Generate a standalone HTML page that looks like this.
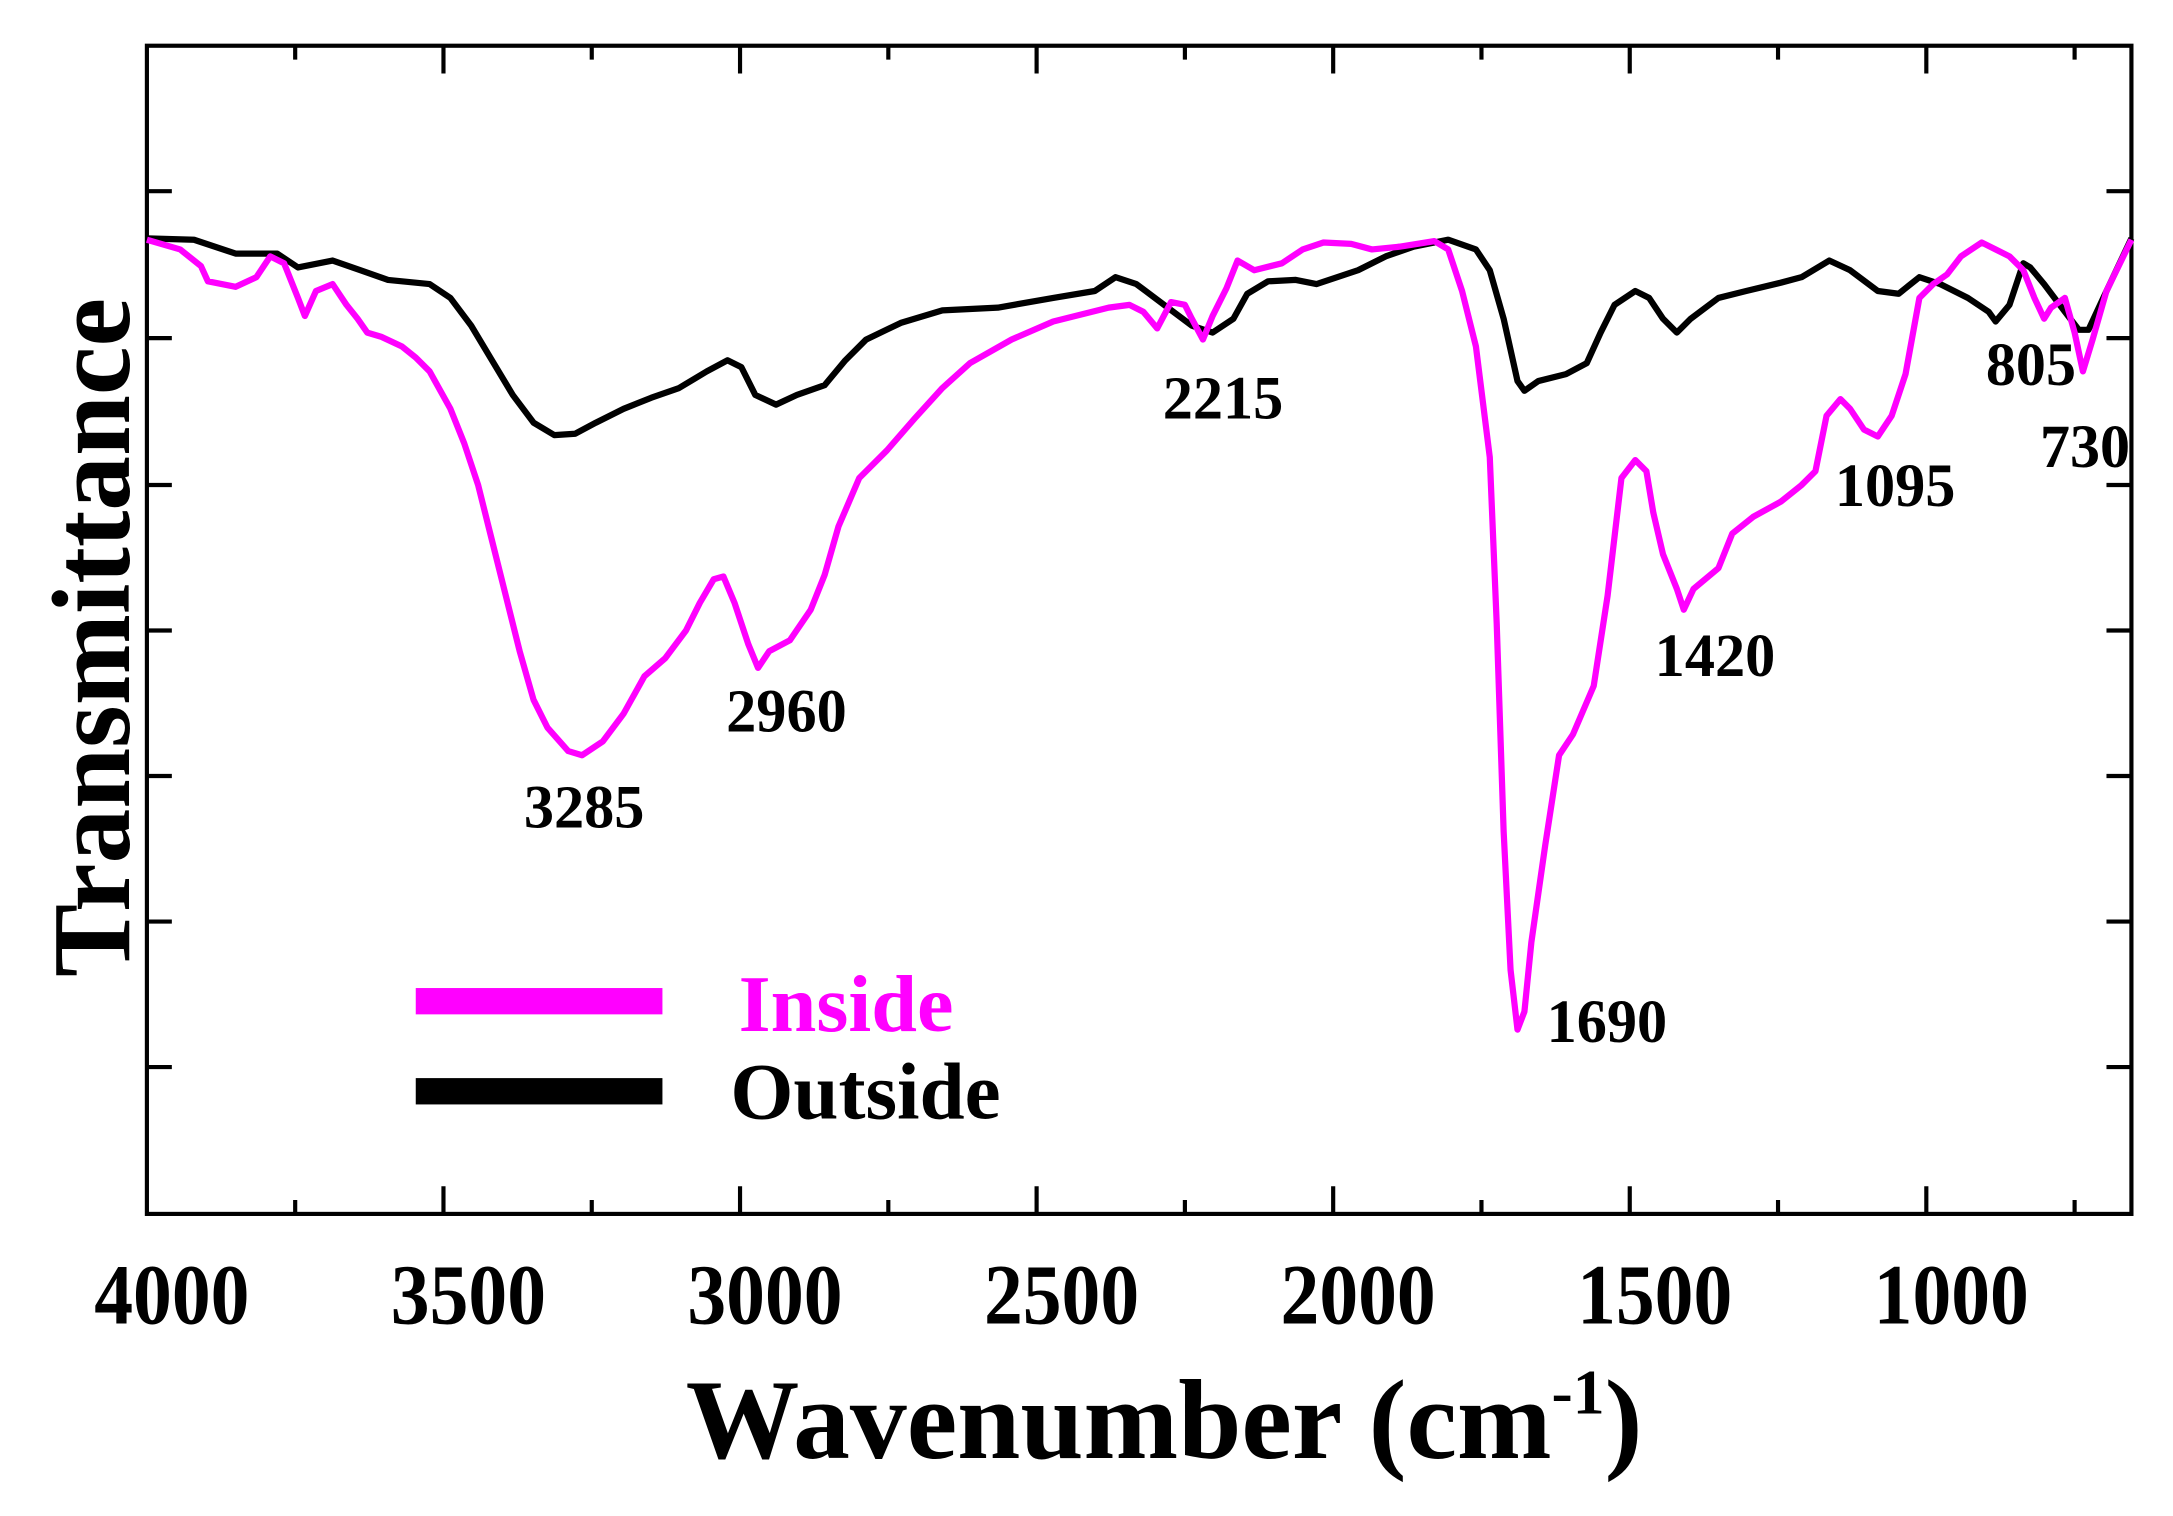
<!DOCTYPE html>
<html><head><meta charset="utf-8"><style>
html,body{margin:0;padding:0;background:#fff}
svg{display:block}
text{font-family:"Liberation Serif",serif;font-weight:bold}
</style></head><body>
<svg width="2173" height="1516" viewBox="0 0 1568 1094" preserveAspectRatio="none" xmlns="http://www.w3.org/2000/svg">
<rect x="0" y="0" width="1568" height="1094" fill="#fff"/>
<g stroke="#000" stroke-width="3" fill="none">
<rect x="106" y="33" width="1432" height="843"/>
<path d="M106,138h18M106,244h18M106,350h18M106,455h18M106,560h18M106,665h18M106,770h18
M1538,138h-18M1538,244h-18M1538,350h-18M1538,455h-18M1538,560h-18M1538,665h-18M1538,770h-18
M320,876v-20M534,876v-20M748,876v-20M962,876v-20M1176,876v-20M1390,876v-20
M213,876v-10M427,876v-10M641,876v-10M855,876v-10M1069,876v-10M1283,876v-10M1497,876v-10
M320,33v20M534,33v20M748,33v20M962,33v20M1176,33v20M1390,33v20
M213,33v10M427,33v10M641,33v10M855,33v10M1069,33v10M1283,33v10M1497,33v10"/>
</g>
<g font-size="62" lengthAdjust="spacingAndGlyphs">
<text x="68" y="955" textLength="112" lengthAdjust="spacingAndGlyphs">4000</text>
<text x="282" y="955" textLength="112" lengthAdjust="spacingAndGlyphs">3500</text>
<text x="496" y="955" textLength="112" lengthAdjust="spacingAndGlyphs">3000</text>
<text x="710" y="955" textLength="112" lengthAdjust="spacingAndGlyphs">2500</text>
<text x="924" y="955" textLength="112" lengthAdjust="spacingAndGlyphs">2000</text>
<text x="1138" y="955" textLength="112" lengthAdjust="spacingAndGlyphs">1500</text>
<text x="1352" y="955" textLength="112" lengthAdjust="spacingAndGlyphs">1000</text>
</g>
<text x="840" y="1052" font-size="82" text-anchor="middle">Wavenumber (cm<tspan font-size="46" dy="-32">-1</tspan><tspan dy="32">)</tspan></text>
<text transform="translate(93,460) rotate(-90)" font-size="80" text-anchor="middle" textLength="490" lengthAdjust="spacingAndGlyphs">Transmittance</text>
<polyline fill="none" stroke="#000" stroke-width="4.5" stroke-linejoin="round" points="106,172 140,173 170,183 200,183 215,193 240,188 260,195 280,202 310,205 325,215 340,235 355,260 370,285 385,305 400,314 415,313 430,305 450,295 470,287 490,280 510,268 525,260 535,265 545,285 560,292 575,285 595,278 610,260 625,245 650,233 680,224 720,222 760,215 790,210 805,200 820,205 840,220 860,235 875,240 890,230 900,212 915,203 935,202 950,205 980,195 1000,185 1020,178 1045,173 1065,180 1075,195 1085,230 1095,275 1100,282 1110,275 1130,270 1145,262 1155,240 1165,220 1180,210 1190,215 1200,230 1210,240 1220,230 1240,215 1260,210 1285,204 1300,200 1320,188 1335,195 1355,210 1370,212 1385,200 1400,205 1420,215 1435,225 1440,232 1450,220 1460,190 1465,193 1475,205 1490,225 1500,238 1507,238 1520,210 1538,172"/>
<polyline fill="none" stroke="#ff00ff" stroke-width="4.5" stroke-linejoin="round" points="106,173 130,180 145,192 150,203 170,207 185,200 195,185 205,190 215,215 220,228 228,210 240,205 250,220 258,230 265,240 275,243 290,250 300,258 310,268 325,295 335,320 345,350 355,390 365,430 375,470 385,505 395,525 410,542 420,545 435,535 450,515 465,488 480,475 495,455 505,435 515,418 522,416 530,435 540,465 547,482 555,470 570,462 585,440 595,415 605,380 620,345 640,325 660,302 680,280 700,262 730,245 760,232 800,222 815,220 825,225 835,237 845,218 855,220 860,230 868,245 875,228 885,208 893,188 905,195 925,190 940,180 955,175 975,176 990,180 1010,178 1035,174 1045,180 1055,210 1065,250 1075,330 1080,450 1085,600 1090,700 1095,743 1100,730 1105,680 1115,610 1125,545 1135,530 1150,495 1160,430 1170,345 1180,332 1188,340 1193,370 1200,400 1210,425 1215,440 1222,425 1240,410 1250,385 1265,373 1285,362 1300,350 1310,340 1318,300 1328,288 1335,295 1345,310 1355,315 1365,300 1375,270 1385,215 1395,205 1405,198 1415,185 1430,175 1440,180 1450,185 1460,195 1468,215 1475,230 1480,222 1490,215 1497,240 1503,268 1510,245 1520,210 1538,173"/>
<g font-size="44">
<text x="378" y="597" textLength="87" lengthAdjust="spacingAndGlyphs">3285</text>
<text x="524" y="528" textLength="87" lengthAdjust="spacingAndGlyphs">2960</text>
<text x="839" y="302" textLength="87" lengthAdjust="spacingAndGlyphs">2215</text>
<text x="1116" y="752" textLength="87" lengthAdjust="spacingAndGlyphs">1690</text>
<text x="1194" y="488" textLength="87" lengthAdjust="spacingAndGlyphs">1420</text>
<text x="1324" y="365" textLength="87" lengthAdjust="spacingAndGlyphs">1095</text>
<text x="1433" y="278" textLength="65" lengthAdjust="spacingAndGlyphs">805</text>
<text x="1472" y="337" textLength="65" lengthAdjust="spacingAndGlyphs">730</text>
</g>
<rect x="300" y="713" width="178" height="19" fill="#ff00ff"/>
<rect x="300" y="778" width="178" height="19" fill="#000"/>
<text x="533" y="744" font-size="58" fill="#ff00ff" textLength="155" lengthAdjust="spacingAndGlyphs">Inside</text>
<text x="527" y="807" font-size="58" textLength="195" lengthAdjust="spacingAndGlyphs">Outside</text>
</svg>
</body></html>
